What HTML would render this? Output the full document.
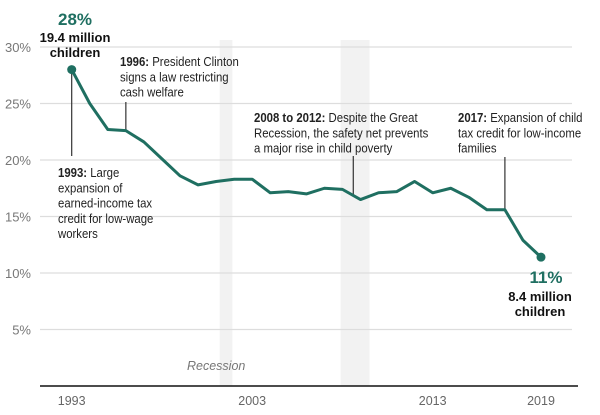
<!DOCTYPE html>
<html><head><meta charset="utf-8"><style>
body{margin:0;background:#fff;}
svg{display:block;font-family:"Liberation Sans",sans-serif;}
</style></head><body>
<svg id="chart" width="600" height="415" viewBox="0 0 600 415"></svg>
<script>
const years=[1993,1994,1995,1996,1997,1998,1999,2000,2001,2002,2003,2004,2005,2006,2007,2008,2009,2010,2011,2012,2013,2014,2015,2016,2017,2018,2019];
const rates=[28.0,25.0,22.7,22.6,21.6,20.1,18.6,17.8,18.1,18.3,18.3,17.1,17.2,17.0,17.5,17.4,16.5,17.1,17.2,18.1,17.1,17.5,16.7,15.6,15.6,12.9,11.4];
const yTicks=[5,10,15,20,25,30];
const xTickYears=[1993,2003,2013,2019];
const recessions=[[2001.2,2001.9],[2007.9,2009.5]];
const NS="http://www.w3.org/2000/svg";
const svg=document.getElementById('chart');
const x=v=>71.7+(v-1993)*18.05;
const y=v=>386-v*11.3;
function el(t,a,txt){const e=document.createElementNS(NS,t);for(const k in a)e.setAttribute(k,a[k]);if(txt!==undefined)e.textContent=txt;svg.appendChild(e);return e;}
recessions.forEach(r=>{const e=el('rect',{x:x(r[0]),y:40,width:x(r[1])-x(r[0]),height:346,fill:'#f2f2f2'});

});
yTicks.forEach(t=>{const l=el('line',{x1:40,x2:572,y1:y(t),y2:y(t),stroke:'#ddd','stroke-width':1.2});


const tx=el('text',{x:31,y:y(t)+5,'text-anchor':'end','font-size':13,fill:'#777'},t+'%');

});
const ax=el('line',{x1:40,x2:578,y1:386,y2:386,stroke:'#111','stroke-width':1.5});


xTickYears.forEach(t=>{const tx=el('text',{x:x(t),y:405,'text-anchor':'middle','font-size':12.5,fill:'#666'},t);

});
const rl=el('text',{x:187,y:370,'font-size':12.5,'font-style':'italic',fill:'#777'},'Recession');


function lead(yr,y1,y2){const l=el('line',{x1:x(yr),x2:x(yr),y1:y1,y2:y2,stroke:'#333','stroke-width':1.2});

}
lead(1993,y(rates[0]),156);
lead(1996,102,y(rates[3]));
lead(2008.6,156,y(16.9));
lead(2017,157,y(rates[24]));
const d=years.map((yr,i)=>(i?'L':'M')+x(yr)+','+y(rates[i])).join(' ');
const p=el('path',{d:d,fill:'none',stroke:'#1f6f61','stroke-width':3,'stroke-linejoin':'round'});


[0,years.length-1].forEach(i=>{const c=el('circle',{cx:x(years[i]),cy:y(rates[i]),r:4.5,fill:'#1f6f61'});

});
function block(lines,x0,y0,name){const t=el('text',{x:0,y:y0,'font-size':12.5,fill:'#222',transform:'translate('+x0+',0) scale(0.91,1)'});


lines.forEach((ln,i)=>{const s=document.createElementNS(NS,'tspan');s.setAttribute('x',0);s.setAttribute('y',y0+i*15.3);
if(ln[0]){const b=document.createElementNS(NS,'tspan');b.setAttribute('font-weight','bold');b.textContent=ln[0];s.appendChild(b);}
s.appendChild(document.createTextNode(ln[1]));t.appendChild(s);});}
block([['1993:',' Large'],['','expansion of'],['','earned-income tax'],['','credit for low-wage'],['','workers']],58,177,'annotation-1993');
block([['1996:',' President Clinton'],['','signs a law restricting'],['','cash welfare']],120,66,'annotation-1996');
block([['2008 to 2012:',' Despite the Great'],['','Recession, the safety net prevents'],['','a major rise in child poverty']],254,122,'annotation-2008');
block([['2017:',' Expansion of child'],['','tax credit for low-income'],['','families']],458,122,'annotation-2017');
const a=el('text',{x:75,y:25,'text-anchor':'middle','font-size':17,'font-weight':'bold',fill:'#1f6f61'},'28%');


const b1=el('text',{x:75,y:42,'text-anchor':'middle','font-size':13,'font-weight':'bold',fill:'#111'},'19.4 million');


const b2=el('text',{x:75,y:57,'text-anchor':'middle','font-size':13,'font-weight':'bold',fill:'#111'},'children');


const e1=el('text',{x:546,y:283,'text-anchor':'middle','font-size':17,'font-weight':'bold',fill:'#1f6f61'},'11%');


const e2=el('text',{x:540,y:301,'text-anchor':'middle','font-size':13,'font-weight':'bold',fill:'#111'},'8.4 million');


const e3=el('text',{x:540,y:316,'text-anchor':'middle','font-size':13,'font-weight':'bold',fill:'#111'},'children');


</script>
</body></html>
